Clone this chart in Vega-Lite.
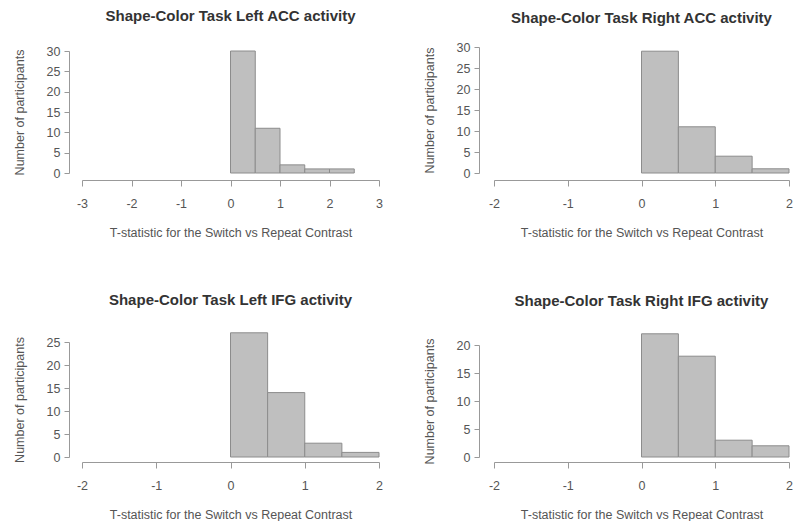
{
  "$schema": "https://vega.github.io/schema/vega-lite/v6.json",
  "padding": {"left": 13, "top": 9, "right": 0, "bottom": 0},
  "background": "white",
  "spacing": 54,
  "config": {
    "view": {"stroke": null},
    "font": "Liberation Sans",
    "axis": {
      "grid": false,
      "domainColor": "#999999",
      "tickColor": "#999999",
      "labelColor": "#555555",
      "titleColor": "#555555",
      "labelFont": "Liberation Sans",
      "titleFont": "Liberation Sans",
      "labelFontSize": 12.5,
      "titleFontSize": 12.5,
      "titleFontWeight": "normal",
      "labelExpr": "'' + datum.value"
    },
    "axisX": {"offset": 7, "tickSize": 6, "labelPadding": 11, "titlePadding": 17, "labelFlush": false},
    "axisY": {"tickSize": 5, "labelPadding": 4, "titlePadding": 20, "labelAngle": 0, "labelBaseline": "middle"},
    "title": {"fontSize": 15, "fontWeight": "bold", "font": "Liberation Sans", "color": "#333333", "offset": 21, "anchor": "middle"},
    "mark": {"clip": false}
  },
  "vconcat": [
    {
      "spacing": 40,
      "hconcat": [
        {
          "title": "Shape-Color Task Left ACC activity",
          "width": 297, "height": 126,
          "data": {"values": [
            {"lo": 0, "hi": 0.5, "count": 30},
            {"lo": 0.5, "hi": 1, "count": 11},
            {"lo": 1, "hi": 1.5, "count": 2},
            {"lo": 1.5, "hi": 2, "count": 1},
            {"lo": 2, "hi": 2.5, "count": 1}
          ]},
          "mark": {"type": "bar", "fill": "#bfbfbf", "stroke": "#8c8c8c", "strokeWidth": 1},
          "encoding": {
            "x": {"field": "lo", "type": "quantitative", "scale": {"domain": [-3, 3], "nice": false, "zero": false}, "axis": {"values": [-3, -2, -1, 0, 1, 2, 3], "title": "T-statistic for the Switch vs Repeat Contrast"}},
            "x2": {"field": "hi"},
            "y": {"field": "count", "type": "quantitative", "scale": {"domain": [0, 30], "nice": false, "range": [126, 4]}, "axis": {"values": [0, 5, 10, 15, 20, 25, 30], "title": "Number of participants", "offset": 13}},
            "y2": {"datum": 0}
          }
        },
        {
          "title": {"text": "Shape-Color Task Right ACC activity", "offset": 15},
          "width": 295, "height": 126,
          "data": {"values": [
            {"lo": 0, "hi": 0.5, "count": 29},
            {"lo": 0.5, "hi": 1, "count": 11},
            {"lo": 1, "hi": 1.5, "count": 4},
            {"lo": 1.5, "hi": 2, "count": 1}
          ]},
          "mark": {"type": "bar", "fill": "#bfbfbf", "stroke": "#8c8c8c", "strokeWidth": 1},
          "encoding": {
            "x": {"field": "lo", "type": "quantitative", "scale": {"domain": [-2, 2], "nice": false, "zero": false}, "axis": {"values": [-2, -1, 0, 1, 2], "title": "T-statistic for the Switch vs Repeat Contrast"}},
            "x2": {"field": "hi"},
            "y": {"field": "count", "type": "quantitative", "scale": {"domain": [0, 30], "nice": false, "range": [126, 0]}, "axis": {"values": [0, 5, 10, 15, 20, 25, 30], "title": "Number of participants", "offset": 15}},
            "y2": {"datum": 0}
          }
        }
      ]
    },
    {
      "spacing": 40,
      "hconcat": [
        {
          "title": {"text": "Shape-Color Task Left IFG activity", "offset": 24},
          "width": 297, "height": 124,
          "data": {"values": [
            {"lo": 0, "hi": 0.5, "count": 27},
            {"lo": 0.5, "hi": 1, "count": 14},
            {"lo": 1, "hi": 1.5, "count": 3},
            {"lo": 1.5, "hi": 2, "count": 1}
          ]},
          "mark": {"type": "bar", "fill": "#bfbfbf", "stroke": "#8c8c8c", "strokeWidth": 1},
          "encoding": {
            "x": {"field": "lo", "type": "quantitative", "scale": {"domain": [-2, 2], "nice": false, "zero": false}, "axis": {"values": [-2, -1, 0, 1, 2], "title": "T-statistic for the Switch vs Repeat Contrast", "offset": 5}},
            "x2": {"field": "hi"},
            "y": {"field": "count", "type": "quantitative", "scale": {"domain": [0, 25], "nice": false, "range": [124, 9]}, "axis": {"values": [0, 5, 10, 15, 20, 25], "title": "Number of participants", "offset": 13}},
            "y2": {"datum": 0}
          }
        },
        {
          "title": {"text": "Shape-Color Task Right IFG activity", "offset": 24},
          "width": 295, "height": 124,
          "data": {"values": [
            {"lo": 0, "hi": 0.5, "count": 22},
            {"lo": 0.5, "hi": 1, "count": 18},
            {"lo": 1, "hi": 1.5, "count": 3},
            {"lo": 1.5, "hi": 2, "count": 2}
          ]},
          "mark": {"type": "bar", "fill": "#bfbfbf", "stroke": "#8c8c8c", "strokeWidth": 1},
          "encoding": {
            "x": {"field": "lo", "type": "quantitative", "scale": {"domain": [-2, 2], "nice": false, "zero": false}, "axis": {"values": [-2, -1, 0, 1, 2], "title": "T-statistic for the Switch vs Repeat Contrast", "offset": 5}},
            "x2": {"field": "hi"},
            "y": {"field": "count", "type": "quantitative", "scale": {"domain": [0, 20], "nice": false, "range": [124, 12]}, "axis": {"values": [0, 5, 10, 15, 20], "title": "Number of participants", "offset": 15}},
            "y2": {"datum": 0}
          }
        }
      ]
    }
  ]
}
